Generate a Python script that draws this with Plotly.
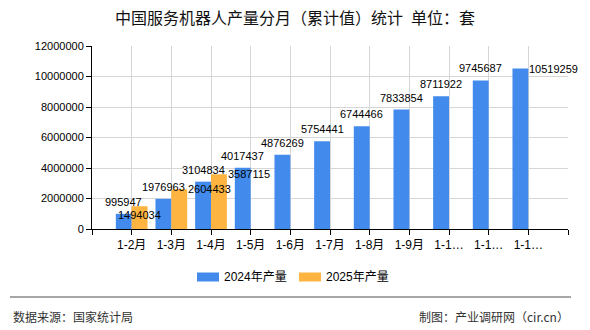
import plotly.graph_objects as go

# ---- data ----
months = ["1-2月", "1-3月", "1-4月", "1-5月", "1-6月", "1-7月", "1-8月",
          "1-9月", "1-10月", "1-11月", "1-12月"]
prod_2024 = [995947, 1976963, 3104834, 4017437, 4876269, 5754441, 6744466,
             7833854, 8711922, 9745687, 10519259]
prod_2025 = [1494034, 2604433, 3587115, None, None, None, None, None, None, None, None]
series_names = ["2024年产量", "2025年产量"]
y_ticks = [0, 2000000, 4000000, 6000000, 8000000, 10000000, 12000000]

title_text = "中国服务机器人产量分月（累计值）统计\u2002单位：套"
source_text = "数据来源：国家统计局"
maker_text = "制图：产业调研网（cir.cn）"

# ---- style ----
W, H = 590, 330
ML, MR, MT, MB = 92, 22, 46, 101
PW, PH = W - ML - MR, H - MT - MB
BLUE, ORANGE = "#428bed", "#fdb441"
NUM_FONT = "Liberation Sans, Noto Sans CJK SC, sans-serif"
CJK_FONT = "Noto Sans CJK SC, sans-serif"


def px_x(px):
    return (px - ML) / PW


def px_y(py):
    return (H - MB - py) / PH


def short(lbl):
    return lbl if len(lbl) <= 4 else lbl[:3] + "…"


idx = list(range(len(months)))

fig = go.Figure()
fig.add_trace(go.Bar(x=idx, y=prod_2024, name=series_names[0], marker_color=BLUE,
                     marker_line_width=0))
fig.add_trace(go.Bar(x=idx, y=prod_2025, name=series_names[1], marker_color=ORANGE,
                     marker_line_width=0))

annos = []
n = len(months)
for i, v in enumerate(prod_2024):
    if i == n - 1:
        annos.append(dict(x=i, y=v, xref="x", yref="y", text=str(v), showarrow=False,
                          xanchor="left", yanchor="middle", xshift=-1,
                          font=dict(family=NUM_FONT, size=11, color="#000")))
    else:
        annos.append(dict(x=i - 0.2, y=v, xref="x", yref="y", text=str(v), showarrow=False,
                          xanchor="center", yanchor="bottom", yshift=4,
                          font=dict(family=NUM_FONT, size=11, color="#000")))
first = True
for i, v in enumerate(prod_2025):
    if v is None:
        continue
    if first:
        annos.append(dict(x=i + 0.2, y=v, xref="x", yref="y", text=str(v), showarrow=False,
                          xanchor="center", yanchor="middle", yshift=-9,
                          font=dict(family=NUM_FONT, size=11, color="#000")))
        first = False
    else:
        annos.append(dict(x=i + 0.4, y=v, xref="x", yref="y", text=str(v), showarrow=False,
                          xanchor="left", yanchor="middle", xshift=-1,
                          font=dict(family=NUM_FONT, size=11, color="#000")))

# custom legend
shapes = []
leg = [(197, BLUE, series_names[0]), (299, ORANGE, series_names[1])]
for x0, col, name in leg:
    shapes.append(dict(type="rect", xref="paper", yref="paper",
                       x0=px_x(x0), x1=px_x(x0 + 22), y0=px_y(281.5), y1=px_y(272.5),
                       fillcolor=col, line_width=0))
    annos.append(dict(x=px_x(x0 + 25), y=px_y(277), xref="paper", yref="paper",
                      text=name, showarrow=False, xanchor="left", yanchor="middle",
                      font=dict(family=NUM_FONT, size=12, color="#000")))

# footer
shapes.append(dict(type="line", xref="paper", yref="paper",
                   x0=px_x(10), x1=px_x(571), y0=px_y(297), y1=px_y(297),
                   line=dict(color="#888888", width=1.5)))
annos.append(dict(x=px_x(11), y=px_y(316), xref="paper", yref="paper", text=source_text,
                  showarrow=False, xanchor="left", yanchor="middle",
                  font=dict(family=CJK_FONT, size=12, color="#333")))
annos.append(dict(x=px_x(571), y=px_y(316), xref="paper", yref="paper", text=maker_text,
                  showarrow=False, xanchor="right", yanchor="middle",
                  font=dict(family=CJK_FONT, size=12, color="#333")))

fig.update_layout(
    width=W, height=H,
    margin=dict(l=ML, r=MR, t=MT, b=MB, pad=0),
    paper_bgcolor="white", plot_bgcolor="white",
    barmode="group", bargap=0.2, bargroupgap=0,
    showlegend=False,
    title=dict(text=title_text, x=0.5, xanchor="center", xref="container",
               y=1 - 18.5 / H, yanchor="middle", yref="container",
               font=dict(family=CJK_FONT, size=16, color="#111")),
    annotations=annos, shapes=shapes,
)
fig.update_xaxes(
    range=[-1, n], tickmode="array",
    tickvals=list(range(-1, n + 1)),
    ticktext=[""] + [short(m) for m in months] + [""],
    ticks="outside", ticklen=5, tickcolor="#000",
    showline=True, linecolor="#000", linewidth=1,
    showgrid=True, gridcolor="#d6d6d6", gridwidth=1, zeroline=False,
    tickfont=dict(family=NUM_FONT, size=12, color="#000"),
)
fig.update_yaxes(
    range=[0, 12000000], tickmode="array", tickvals=y_ticks,
    ticktext=[str(t) for t in y_ticks],
    ticks="outside", ticklen=5, tickcolor="#000",
    showline=True, linecolor="#000", linewidth=1,
    showgrid=True, gridcolor="#d6d6d6", gridwidth=1, zeroline=False,
    tickfont=dict(family=NUM_FONT, size=11, color="#000"),
)

fig.write_html("out.html")
